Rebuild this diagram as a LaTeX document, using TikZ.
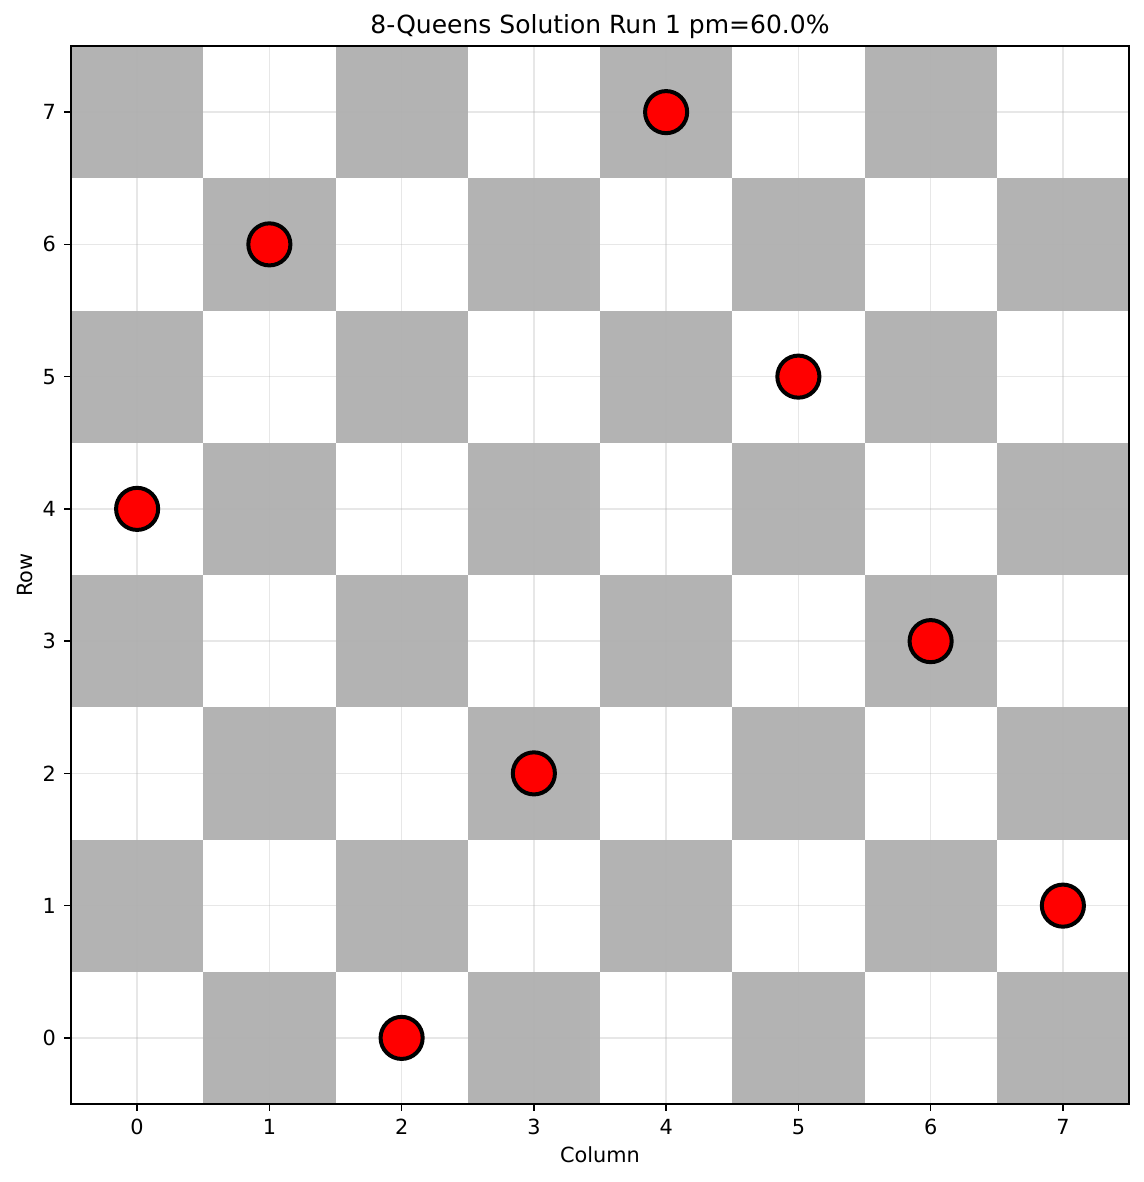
\documentclass[tikz,border=0pt]{standalone}
\usepackage{fontspec}
\setmainfont{DejaVu Sans}
\usepackage{xcolor}
\usepackage{tikz}
\usetikzlibrary{positioning}
\definecolor{boardGray}{HTML}{B3B3B3}
\definecolor{gridGray}{HTML}{B0B0B0}
\definecolor{queenRed}{HTML}{FF0000}

\begin{document}
\begin{tikzpicture}[x=0.48pt, y=-0.48pt,
    cell/.style={fill=boardGray},
    gridline/.style={draw=gridGray, opacity=0.3, line width=0.8pt},
    queen/.style={circle, draw=black, fill=queenRed, line width=1.92pt,
      minimum size=20.2pt, inner sep=0pt},
    ticklab/.style={font=\fontsize{10}{12}\selectfont, inner sep=0pt},
    axlab/.style={font=\fontsize{10}{12}\selectfont, inner sep=0pt}]
  \useasboundingbox (0,0) rectangle (1144,1182);
  \begin{scope}[shift={(137.125,1037.875)}, x=63.48pt, y=63.48pt]
    % checkerboard
    \foreach \c in {0,...,7}
      \foreach \r in {0,...,7} {
        \pgfmathtruncatemacro{\parity}{mod(\c+\r,2)}
        \ifnum\parity=1
          \fill[cell] (\c-0.5,\r-0.5) rectangle ++(1,1);
        \fi
      }
    % grid
    \foreach \i in {0,...,7} {
      \draw[gridline] (\i,-0.5) -- (\i,7.5);
      \draw[gridline] (-0.5,\i) -- (7.5,\i);
    }
    % queens
    \foreach \c/\r in {0/4, 1/6, 2/0, 3/2, 4/7, 5/5, 6/3, 7/1}
      \node[queen] (q\c) at (\c,\r) {};
    % axes
    \draw[line width=0.8pt] (-0.5,-0.5) rectangle (7.5,7.5);
    \foreach \i in {0,...,7} {
      \draw[line width=0.8pt] (\i,-0.5) -- ++(0pt,-3.5pt);
      \draw[line width=0.8pt] (-0.5,\i) -- ++(-3.5pt,0pt);
      \node[ticklab, anchor=north] (xt\i) at ([yshift=-7pt]\i,-0.5) {\i};
      \node[ticklab, anchor=east] (yt\i) at ([xshift=-7pt]-0.5,\i) {\i};
    }
    \node[axlab, anchor=base] (xlab) at ([yshift=-28.3pt]3.5,-0.5) {Column};
    \node[axlab, anchor=base, rotate=90] (ylab) at ([xshift=-18.7pt]-0.5,3.5) {Row};
    \node[font=\fontsize{12}{14}\selectfont, inner sep=0pt, anchor=base] (title)
      at ([yshift=6pt]3.5,7.5) {8-Queens Solution Run 1 pm=60.0\%};
  \end{scope}
\end{tikzpicture}
\end{document}
